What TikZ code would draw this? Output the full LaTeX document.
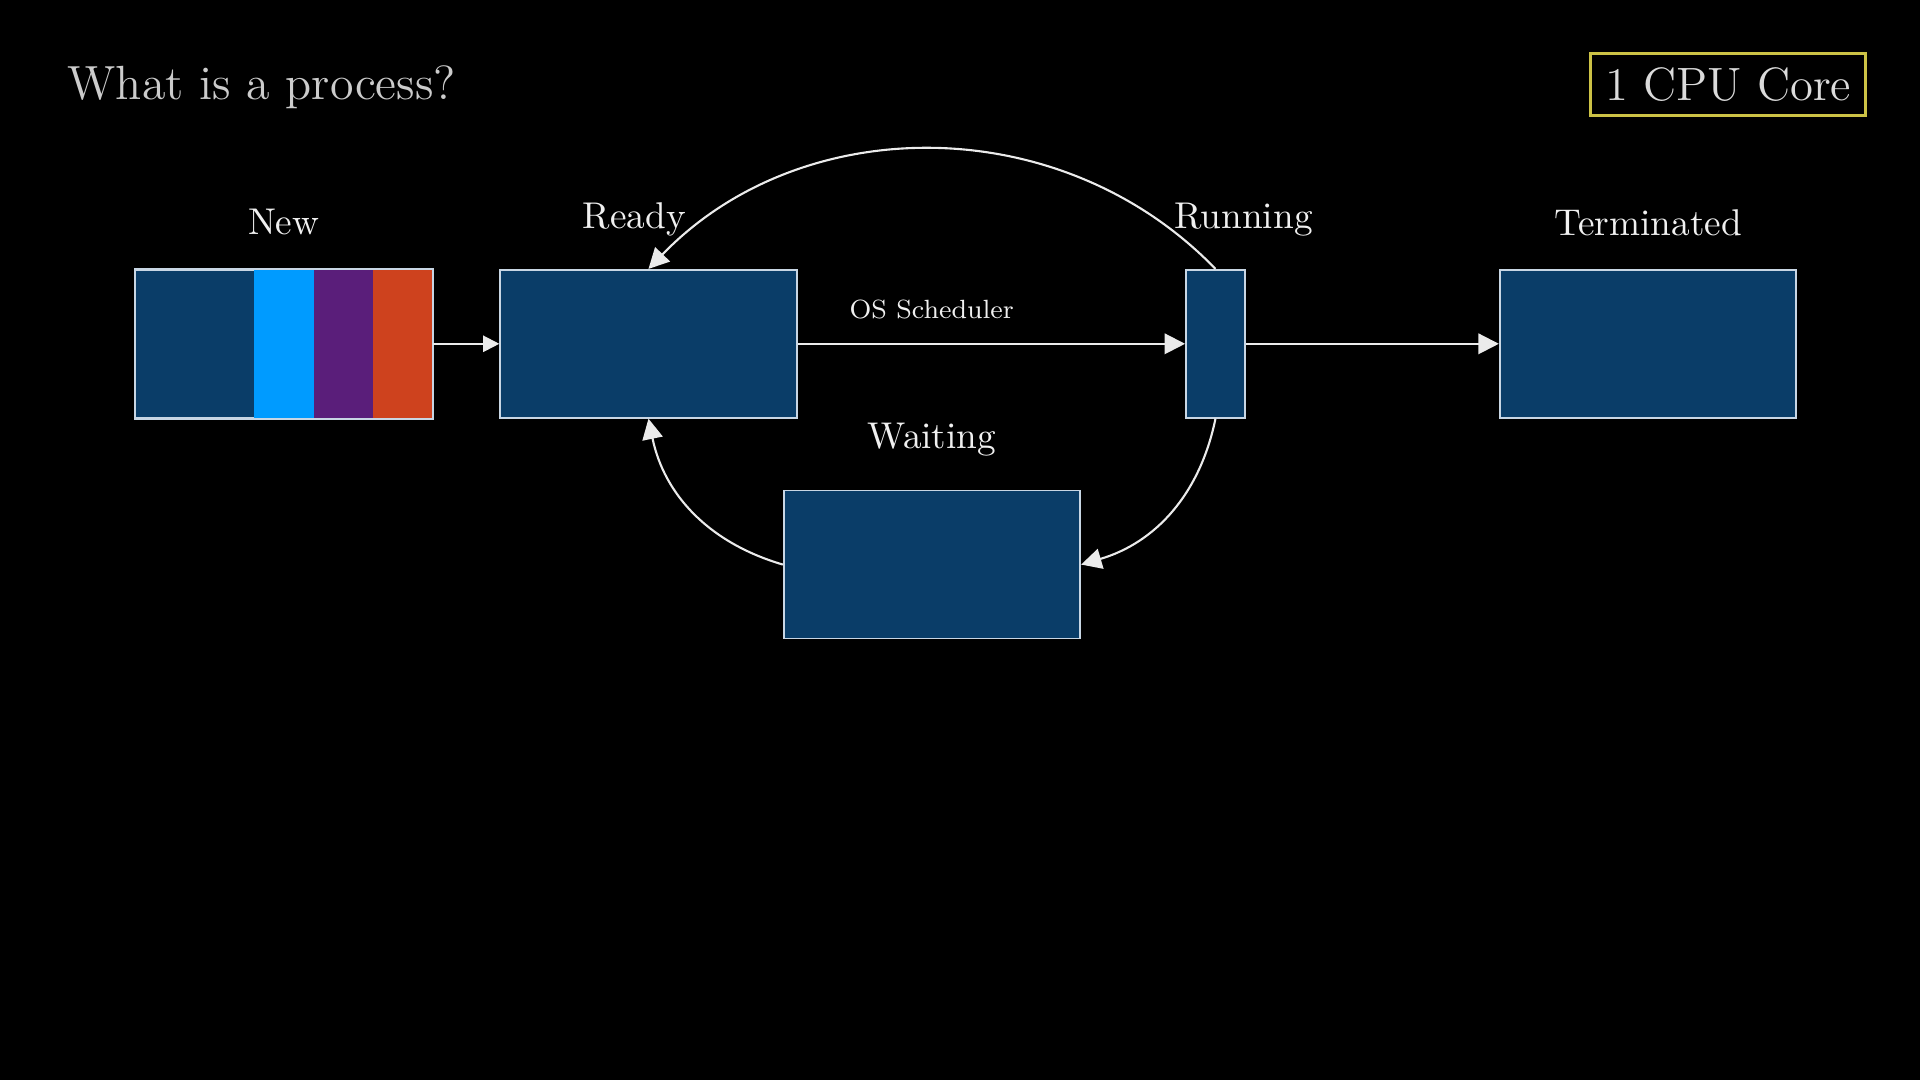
\documentclass[tikz,border=0pt]{standalone}
\usepackage{tikz}
\usetikzlibrary{arrows.meta, positioning, calc}
\definecolor{procblue}{RGB}{10,61,104}
\definecolor{edgegray}{RGB}{200,214,228}
\definecolor{pcyan}{RGB}{0,155,255}
\definecolor{ppurple}{RGB}{90,30,122}
\definecolor{porange}{RGB}{206,66,30}
\definecolor{coreyellow}{RGB}{204,194,70}
\definecolor{titlegray}{RGB}{204,204,204}
\tikzstyle{procbox} = [rectangle, minimum width=2.965cm, minimum height=1.48cm, inner sep=0pt, draw=edgegray, line width=0.5pt, fill=procblue]
\tikzstyle{lbl} = [text=white!94!black, font=\fontsize{10.6}{13}\selectfont, inner sep=0pt, anchor=base]
\tikzstyle{arrow} = [draw=white!92!black, line width=0.6pt, -{Triangle[length=5.8pt,width=5.8pt]}]
\tikzstyle{sarrow} = [arrow, -{Triangle[length=4.6pt,width=4.6pt]}]

\begin{document}
\begin{tikzpicture}[node distance=1cm]
  \fill[black] (0,0) rectangle (19.2,-10.8);
  \node[anchor=base west, text=titlegray, font=\fontsize{13.65}{16}\selectfont, inner sep=0pt] (title) at (0.67,-1.00) {What is a process?};
  \node[draw=coreyellow, line width=0.8pt, text=titlegray!70!white, font=\fontsize{13.3}{16}\selectfont, minimum width=2.75cm, minimum height=0.62cm, inner sep=0pt] (core) at (17.283,-0.842) {1 CPU Core};

  % process states
  \node[procbox] (new) at (2.837,-3.438) {};
  \fill[pcyan] ($(new.north west)!0.4!(new.north east)$) rectangle ($(new.south west)!0.6!(new.south east)$);
  \fill[ppurple] ($(new.north west)!0.6!(new.north east)$) rectangle ($(new.south west)!0.8!(new.south east)$);
  \fill[porange] ($(new.north west)!0.8!(new.north east)$) rectangle (new.south east);
  \draw[edgegray, line width=0.5pt] (new.north west) rectangle (new.south east);

  \node[procbox, right=0.665cm of new] (ready) {};
  \node[procbox, minimum width=0.59cm, right=3.875cm of ready] (running) {};
  \node[procbox, right=2.53cm of running] (term) {};
  \coordinate (mid) at ($(ready.south)!0.5!(running.south)$);
  \node[procbox, below=0.71cm of mid] (waiting) {};

  \node[lbl] (newlbl) at ($(new.north)+(0,0.34)$) {New};
  \node[lbl] (readylbl) at ($(ready.north)+(-0.14,0.40)$) {Ready};
  \node[lbl] (runlbl) at ($(running.north)+(0.28,0.40)$) {Running};
  \node[lbl] (termlbl) at ($(term.north)+(0,0.33)$) {Terminated};
  \node[lbl] (waitlbl) at ($(waiting.north)+(0,0.41)$) {Waiting};

  % transitions
  \draw[sarrow] (new) -- (ready);
  \draw[arrow] (ready) -- node[pos=0.346, above=6.8pt, inner sep=0pt, text=white!94!black, font=\fontsize{7.5}{9}\selectfont] (sched) {OS Scheduler} (running);
  \draw[arrow] (running) -- (term);
  \draw[arrow] (running.north) to[bend right=46] (ready.north);
  \draw[arrow] (running.south) to[bend left=31] (waiting.east);
  \draw[arrow] (waiting.west) to[bend left=31] (ready.south);
\end{tikzpicture}
\end{document}
